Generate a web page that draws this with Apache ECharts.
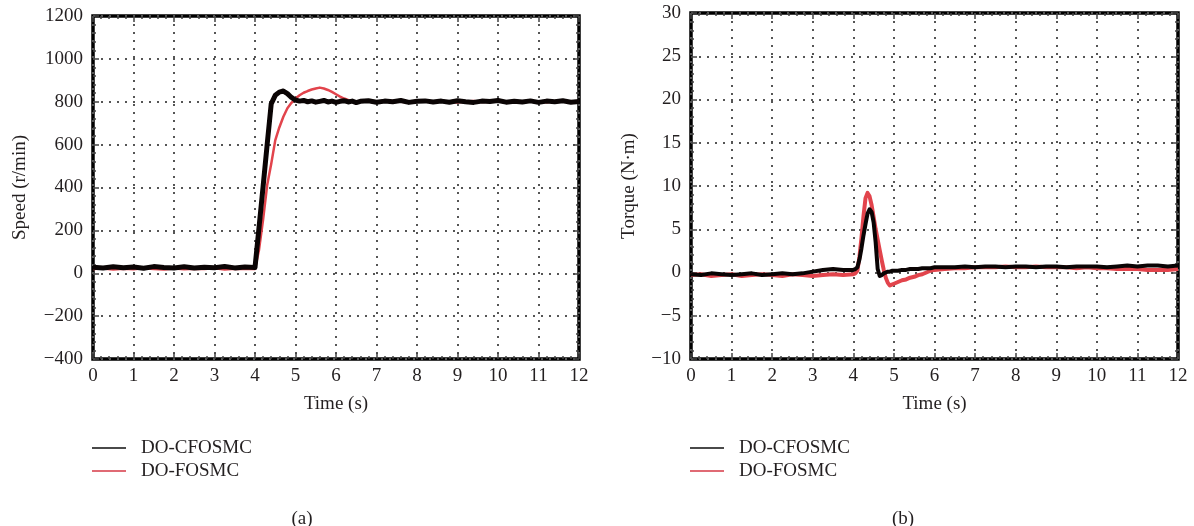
<!DOCTYPE html>
<html><head><meta charset="utf-8">
<script src="https://cdn.jsdelivr.net/npm/echarts@6/dist/echarts.min.js"></script>
<style>html,body{margin:0;padding:0;background:#fff}#c{width:1194px;height:526px}</style>
</head><body><div id="c"></div>
<script>
// ---- data ----
const xTicks = [0,1,2,3,4,5,6,7,8,9,10,11,12];
const speedTicks = [-400,-200,0,200,400,600,800,1000,1200];
const torqueTicks = [-10,-5,0,5,10,15,20,25,30];
const seriesNames = ['DO-CFOSMC','DO-FOSMC'];
const captions = ['(a)','(b)'];

const tSpeed = [0,0.25,0.5,0.75,1,1.25,1.5,1.75,2,2.25,2.5,2.75,3,3.25,3.5,3.75,
  4,4.1,4.2,4.3,4.4,4.5,4.6,4.7,4.8,4.9,5,5.1,5.2,5.3,5.4,5.5,5.6,5.7,5.8,5.9,6,6.1,6.2,6.3,6.4,6.5,6.6,
  6.8,7,7.2,7.4,7.6,7.8,8,8.2,8.4,8.6,8.8,9,9.2,9.4,9.6,9.8,10,10.2,10.4,10.6,10.8,11,11.2,11.4,11.6,11.8,12];
const speedCF = [28,24,30,26,29,23,31,27,25,30,24,28,26,31,25,29,
  27,215,405,600,790,830,845,850,838,820,808,803,806,800,804,798,802,806,799,803,797,802,805,799,803,796,802,
  805,798,803,800,806,797,802,804,799,803,798,805,800,797,803,801,806,798,802,799,804,797,803,800,805,798,801];
const speedF = [20,22,18,21,19,23,20,18,22,19,21,20,23,18,21,20,
  20,110,250,410,510,620,680,730,770,795,815,830,842,850,857,862,866,862,855,846,835,824,815,808,804,801,800,
  802,799,801,804,800,798,803,801,799,802,800,797,801,803,799,800,802,798,801,799,803,800,798,801,802,799,800];

const tTorque = [0,0.25,0.5,0.75,1,1.25,1.5,1.75,2,2.25,2.5,2.75,3,3.25,3.5,3.75,
  4,4.05,4.1,4.15,4.2,4.25,4.3,4.35,4.4,4.45,4.5,4.55,4.6,4.65,4.7,4.75,4.8,4.85,4.9,4.95,5,
  5.1,5.2,5.3,5.4,5.5,5.6,5.7,5.8,5.9,6,
  6.25,6.5,6.75,7,7.25,7.5,7.75,8,8.25,8.5,8.75,9,9.25,9.5,9.75,10,10.25,10.5,10.75,11,11.25,11.5,11.75,12];
const torqueCF = [-0.2,-0.3,-0.1,-0.2,-0.3,-0.2,-0.1,-0.3,-0.2,-0.1,-0.2,-0.1,0.1,0.3,0.4,0.3,
  0.3,0.4,0.6,1.5,2.8,4.3,5.6,6.8,7.3,7.0,5.8,3.5,0.4,-0.4,-0.3,-0.1,0.0,0.1,0.1,0.2,0.2,
  0.2,0.3,0.3,0.4,0.4,0.4,0.5,0.5,0.5,0.6,
  0.6,0.6,0.7,0.6,0.7,0.7,0.6,0.7,0.7,0.6,0.7,0.7,0.6,0.7,0.7,0.7,0.6,0.7,0.8,0.7,0.8,0.8,0.7,0.8];
const torqueF = [-0.3,-0.2,-0.4,-0.3,-0.2,-0.4,-0.3,-0.2,-0.3,-0.4,-0.2,-0.3,-0.4,-0.3,-0.2,-0.3,
  -0.2,-0.1,0.2,1.8,4.0,6.5,8.6,9.2,8.8,7.8,6.4,5.0,3.8,2.6,1.4,0.3,-0.6,-1.2,-1.5,-1.4,-1.3,
  -1.1,-0.9,-0.8,-0.6,-0.5,-0.3,-0.2,0.0,0.2,0.3,
  0.4,0.5,0.5,0.6,0.6,0.6,0.7,0.6,0.6,0.7,0.6,0.6,0.6,0.5,0.6,0.5,0.5,0.4,0.4,0.4,0.3,0.3,0.3,0.4];

// ---- styles ----
const FONT = 'Liberation Serif';
const TXT = '#231f20';
const BLACK = '#0a0404';
const RED = '#e2444c';
const pair = (t, v) => t.map((x, i) => [x, v[i]]);

const grids = [
  {left: 93, top: 16, width: 486, height: 343},
  {left: 691, top: 13, width: 487, height: 346}
];
const TICK = {show: true, inside: true, length: 6, lineStyle: {color: '#444', width: 1.5}};
const MINOR = {show: true, splitNumber: 5, length: 3, lineStyle: {color: '#444', width: 1.5}};

function mainX(gi) {
  return {
    type: 'value', gridIndex: gi, min: 0, max: 12, interval: 1, position: 'bottom',
    name: 'Time (s)', nameLocation: 'middle', nameGap: 36,
    nameTextStyle: {fontFamily: FONT, fontSize: 19, color: TXT},
    axisLine: {show: false, onZero: false},
    axisTick: TICK, minorTick: MINOR,
    axisLabel: {fontFamily: FONT, fontSize: 19, color: TXT, margin: 8},
    splitLine: {show: true, lineStyle: {color: '#555', width: 2, type: [2, 6]}}
  };
}
function auxX(gi) {
  return {
    type: 'value', gridIndex: gi, min: 0, max: 12, interval: 1, position: 'top',
    axisLine: {show: false, onZero: false}, axisLabel: {show: false}, splitLine: {show: false},
    axisTick: TICK, minorTick: MINOR
  };
}
function mainY(gi, ticks, name, gap) {
  return {
    type: 'value', gridIndex: gi, min: ticks[0], max: ticks[ticks.length - 1],
    interval: ticks[1] - ticks[0], position: 'left',
    name: name, nameLocation: 'middle', nameGap: gap,
    nameTextStyle: {fontFamily: FONT, fontSize: 19, color: TXT},
    axisLine: {show: false, onZero: false},
    axisTick: TICK, minorTick: MINOR,
    axisLabel: {fontFamily: FONT, fontSize: 19, color: TXT, margin: 10,
      formatter: v => (v < 0 ? '\u2212' + Math.abs(v) : String(v))},
    splitLine: {show: true, lineStyle: {color: '#555', width: 2, type: [2, 6]}}
  };
}
function auxY(gi, ticks) {
  return {
    type: 'value', gridIndex: gi, min: ticks[0], max: ticks[ticks.length - 1],
    interval: ticks[1] - ticks[0], position: 'right',
    axisLine: {show: false, onZero: false}, axisLabel: {show: false}, splitLine: {show: false},
    axisTick: TICK, minorTick: MINOR
  };
}

function line(name, xi, yi, data, color, width) {
  return {
    type: 'line', name: name, xAxisIndex: xi, yAxisIndex: yi, data: data,
    showSymbol: false, symbol: 'none', animation: false,
    lineStyle: {color: color, width: width, join: 'round'}, itemStyle: {color: color}
  };
}

function legend(left) {
  return {
    left: left, top: 438, orient: 'vertical', icon: 'rect', padding: 0,
    itemWidth: 34, itemHeight: 2, itemGap: 3, selectedMode: false,
    textStyle: {fontFamily: FONT, fontSize: 19, color: TXT, lineHeight: 20, padding: [0, 0, 0, 10]},
    data: [
      {name: seriesNames[0], itemStyle: {color: '#4a4a4a'}},
      {name: seriesNames[1], itemStyle: {color: '#e06a74'}}
    ]
  };
}

const chart = echarts.init(document.getElementById('c'), null, {renderer: 'canvas'});
chart.setOption({
  backgroundColor: '#fff',
  animation: false,
  grid: grids.map(g => Object.assign({show: true, borderColor: '#000', borderWidth: 3.5, backgroundColor: 'transparent'}, g)),
  xAxis: [mainX(0), auxX(0), mainX(1), auxX(1)],
  yAxis: [mainY(0, speedTicks, 'Speed (r/min)', 63), auxY(0, speedTicks),
          mainY(1, torqueTicks, 'Torque (N\u00b7m)', 52), auxY(1, torqueTicks)],
  legend: [legend(92), legend(690)],
  title: [
    {text: captions[0], left: 297, top: 505, textAlign: 'center',
     textStyle: {fontFamily: FONT, fontSize: 19, fontWeight: 'normal', color: TXT}},
    {text: captions[1], left: 898, top: 505, textAlign: 'center',
     textStyle: {fontFamily: FONT, fontSize: 19, fontWeight: 'normal', color: TXT}}
  ],
  series: [
    line(seriesNames[1], 0, 0, pair(tSpeed, speedF), RED, 2.5),
    line(seriesNames[0], 0, 0, pair(tSpeed, speedCF), BLACK, 5),
    line(seriesNames[1], 2, 2, pair(tTorque, torqueF), RED, 4),
    line(seriesNames[0], 2, 2, pair(tTorque, torqueCF), BLACK, 4)
  ]
});
</script></body></html>
